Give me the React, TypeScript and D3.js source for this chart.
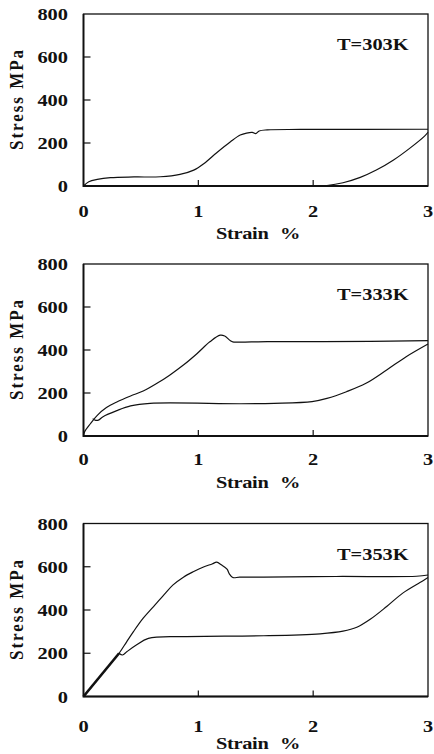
import * as d3 from "d3";
import { useEffect, useRef } from "react";

const strainTicks = [0, 1, 2, 3];
const stressTicks = [0, 200, 400, 600, 800];
const temperatures = ["T=303K", "T=333K", "T=353K"];

// [strain %, stress MPa]
const loading303 = [[0, 0], [0.046, 20], [0.12, 31], [0.235, 39], [0.44, 42], [0.67, 43], [0.84, 54], [0.96, 74], [1.05, 105], [1.16, 155], [1.28, 206], [1.365, 237], [1.42, 246], [1.47, 249], [1.5, 244], [1.53, 256], [1.6, 261], [1.89, 263], [3, 264]];
const unloading303 = [[3, 250], [2.97, 232], [2.84, 175], [2.7, 121], [2.55, 74], [2.41, 40], [2.26, 15], [2.12, 2], [2.05, 0]];

const loading333 = [[0, 0], [0.01, 20], [0.06, 57], [0.12, 96], [0.2, 132], [0.29, 158], [0.41, 186], [0.52, 209], [0.64, 245], [0.75, 283], [0.87, 330], [0.99, 384], [1.1, 438], [1.19, 469], [1.23, 465], [1.28, 443], [1.3, 438], [1.6, 439], [2.5, 440], [3, 444]];
const unloading333 = [[3, 428], [2.81, 369], [2.64, 307], [2.46, 245], [2.29, 206], [2.12, 175], [1.99, 160], [1.66, 152], [1.37, 150], [0.58, 152], [0.41, 140], [0.29, 118], [0.17, 90], [0.13, 74], [0.1, 74], [0.08, 81]];

const loading353 = [[0, 0], [0.1, 64], [0.2, 129], [0.31, 200], [0.377, 254], [0.435, 300], [0.52, 362], [0.61, 416], [0.7, 470], [0.78, 516], [0.87, 552], [0.96, 578], [1.04, 598], [1.12, 613], [1.16, 621], [1.2, 609], [1.25, 589], [1.27, 567], [1.3, 550], [1.36, 552], [1.57, 552], [2.2, 555], [2.9, 556], [3, 562]];
const unloading353 = [[3, 550], [2.93, 527], [2.78, 478], [2.64, 416], [2.5, 358], [2.38, 320], [2.26, 302], [2.06, 290], [1.57, 281], [0.87, 277], [0.565, 269], [0.46, 238], [0.377, 207], [0.34, 192], [0.31, 200]];
const elastic353 = [[0, 0], [0.31, 200]];

const panels = [
  { top: 14, bottom: 186, tickBase: 217, labelBase: 239, curves: [loading303, unloading303], thick: null },
  { top: 264, bottom: 436, tickBase: 465, labelBase: 488, curves: [loading333, unloading333], thick: null },
  { top: 523.5, bottom: 696.5, tickBase: 732, labelBase: 749, curves: [loading353, unloading353], thick: elastic353 },
];

const FONT = "'Liberation Serif', 'Times New Roman', serif";

const App = () => {
  const ref = useRef<SVGSVGElement>(null);

  useEffect(() => {
    const svg = d3.select(ref.current);
    svg.selectAll("*").remove();

    const left = 83.5;
    const right = 428;

    const label = (g, x, y, txt, anchor, size = 17) =>
      g
        .append("text")
        .attr("transform", `translate(${x},${y}) scale(1.2,1)`)
        .attr("text-anchor", anchor)
        .attr("font-family", FONT)
        .attr("font-weight", "bold")
        .attr("font-size", size)
        .attr("fill", "#111")
        .text(txt);

    panels.forEach((p, i) => {
      const x = d3.scaleLinear().domain([0, 3]).range([left, right]);
      const y = d3.scaleLinear().domain([0, 800]).range([p.bottom, p.top]);
      const g = svg.append("g");

      // frame
      g.append("rect")
        .attr("x", left)
        .attr("y", p.top)
        .attr("width", right - left)
        .attr("height", p.bottom - p.top)
        .attr("fill", "none")
        .attr("stroke", "#111")
        .attr("stroke-width", 1.3);
      g.append("path")
        .attr("d", `M${left},${p.top}V${p.bottom}H${right}`)
        .attr("fill", "none")
        .attr("stroke", "#111")
        .attr("stroke-width", 1.8);

      // inner ticks
      stressTicks
        .filter((t) => t > 0 && t < 800)
        .forEach((t) => {
          g.append("line")
            .attr("x1", left)
            .attr("x2", left + 7)
            .attr("y1", y(t))
            .attr("y2", y(t))
            .attr("stroke", "#111")
            .attr("stroke-width", 1.2);
        });
      strainTicks
        .filter((t) => t > 0 && t < 3)
        .forEach((t) => {
          g.append("line")
            .attr("x1", x(t))
            .attr("x2", x(t))
            .attr("y1", p.bottom)
            .attr("y2", p.bottom - 6)
            .attr("stroke", "#111")
            .attr("stroke-width", 1.2);
        });

      // tick labels
      stressTicks.forEach((t) => label(g, 68, y(t) + 6, String(t), "end"));
      strainTicks.forEach((t) => label(g, x(t), p.tickBase, String(t), "middle"));

      // axis titles
      label(g, 216, p.labelBase, "Strain", "start").attr("textLength", 44);
      label(g, 280, p.labelBase, "%", "start");
      g.append("text")
        .attr("transform", `translate(23,${(p.top + p.bottom) / 2}) rotate(-90) scale(1,1.15)`)
        .attr("text-anchor", "middle")
        .attr("font-family", FONT)
        .attr("font-weight", "bold")
        .attr("font-size", 17)
        .attr("fill", "#111")
        .attr("textLength", 100)
        .attr("lengthAdjust", "spacing")
        .text("Stress MPa");

      label(g, 337, p.top + 36, temperatures[i], "start");

      // curves
      const line = d3
        .line()
        .x((d) => x(d[0]))
        .y((d) => y(d[1]))
        .curve(d3.curveCatmullRom.alpha(0.5));
      p.curves.forEach((c) => {
        g.append("path")
          .attr("d", line(c))
          .attr("fill", "none")
          .attr("stroke", "#111")
          .attr("stroke-width", 1.2);
      });
      if (p.thick) {
        g.append("path")
          .attr("d", line(p.thick))
          .attr("fill", "none")
          .attr("stroke", "#111")
          .attr("stroke-width", 2.6);
      }
    });
  }, []);

  return (
    <svg
      ref={ref}
      width={434}
      height={754}
      style={{ position: "absolute", left: 0, top: 0, background: "#fff" }}
    />
  );
};

export default App;
